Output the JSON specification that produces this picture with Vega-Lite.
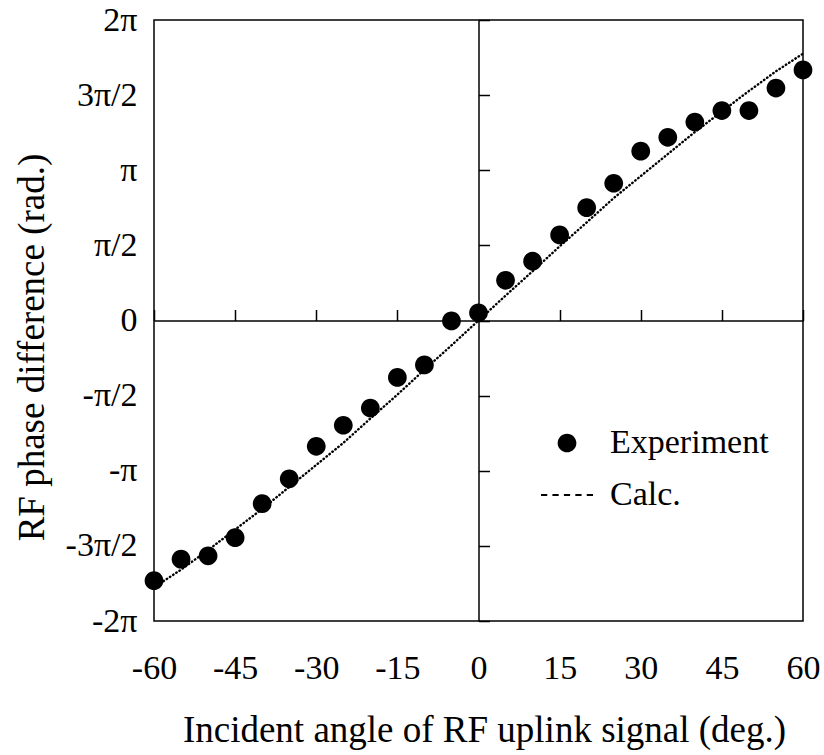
{
  "$schema": "https://vega.github.io/schema/vega-lite/v6.json",
  "width": 649,
  "height": 601,
  "autosize": {"type": "none"},
  "padding": {"left": 154, "top": 20, "right": 21, "bottom": 134},
  "background": "white",
  "config": {
    "view": {"stroke": "black", "strokeWidth": 1.5},
    "axis": {"labelFont": "Liberation Serif", "titleFont": "Liberation Serif", "labelColor": "black", "titleColor": "black", "grid": false, "titleFontWeight": "normal"}
  },
  "datasets": {
    "exp": [
      {"angle": -60, "phase": -5.44, "series": "Experiment"},
      {"angle": -55, "phase": -4.99, "series": "Experiment"},
      {"angle": -50, "phase": -4.92, "series": "Experiment"},
      {"angle": -45, "phase": -4.54, "series": "Experiment"},
      {"angle": -40, "phase": -3.83, "series": "Experiment"},
      {"angle": -35, "phase": -3.31, "series": "Experiment"},
      {"angle": -30, "phase": -2.63, "series": "Experiment"},
      {"angle": -25, "phase": -2.19, "series": "Experiment"},
      {"angle": -20, "phase": -1.83, "series": "Experiment"},
      {"angle": -15, "phase": -1.19, "series": "Experiment"},
      {"angle": -10, "phase": -0.93, "series": "Experiment"},
      {"angle": -5, "phase": -0.01, "series": "Experiment"},
      {"angle": 0, "phase": 0.16, "series": "Experiment"},
      {"angle": 5, "phase": 0.84, "series": "Experiment"},
      {"angle": 10, "phase": 1.24, "series": "Experiment"},
      {"angle": 15, "phase": 1.79, "series": "Experiment"},
      {"angle": 20, "phase": 2.36, "series": "Experiment"},
      {"angle": 25, "phase": 2.87, "series": "Experiment"},
      {"angle": 30, "phase": 3.54, "series": "Experiment"},
      {"angle": 35, "phase": 3.83, "series": "Experiment"},
      {"angle": 40, "phase": 4.15, "series": "Experiment"},
      {"angle": 45, "phase": 4.39, "series": "Experiment"},
      {"angle": 50, "phase": 4.39, "series": "Experiment"},
      {"angle": 55, "phase": 4.86, "series": "Experiment"},
      {"angle": 60, "phase": 5.24, "series": "Experiment"}
    ],
    "calc": [
      {"angle": -60, "phase": -5.58},
      {"angle": -55, "phase": -5.21},
      {"angle": -50, "phase": -4.80},
      {"angle": -45, "phase": -4.37},
      {"angle": -40, "phase": -3.94},
      {"angle": -35, "phase": -3.48},
      {"angle": -30, "phase": -3.02},
      {"angle": -25, "phase": -2.56},
      {"angle": -20, "phase": -2.05},
      {"angle": -15, "phase": -1.55},
      {"angle": -10, "phase": -1.03},
      {"angle": -5, "phase": -0.52},
      {"angle": 0, "phase": 0},
      {"angle": 5, "phase": 0.52},
      {"angle": 10, "phase": 1.03},
      {"angle": 15, "phase": 1.55},
      {"angle": 20, "phase": 2.05},
      {"angle": 25, "phase": 2.56},
      {"angle": 30, "phase": 3.02},
      {"angle": 35, "phase": 3.48},
      {"angle": 40, "phase": 3.94},
      {"angle": 45, "phase": 4.37},
      {"angle": 50, "phase": 4.80},
      {"angle": 55, "phase": 5.21},
      {"angle": 60, "phase": 5.58}
    ]
  },
  "layer": [
    {
      "data": {"name": "calc"},
      "mark": {"type": "line", "color": "black", "strokeWidth": 2.4, "strokeDash": [0.5, 3.3], "strokeCap": "round"},
      "encoding": {
        "x": {
          "field": "angle", "type": "quantitative",
          "scale": {"domain": [-60, 60], "nice": false, "zero": false},
          "axis": {"orient": "top", "offset": -300.5, "values": [-60, -45, -30, -15, 0, 15, 30, 45, 60], "labels": false, "title": null, "domain": true, "domainColor": "black", "domainWidth": 1.5, "ticks": true, "tickSize": 11, "tickColor": "black", "tickWidth": 1.5}
        },
        "y": {
          "field": "phase", "type": "quantitative",
          "scale": {"domain": [-6.283185307, 6.283185307], "nice": false, "zero": false},
          "axis": {"orient": "right", "offset": -324.5, "values": [-6.283185307, -4.71238898, -3.141592654, -1.570796327, 0, 1.570796327, 3.141592654, 4.71238898, 6.283185307], "labels": false, "title": null, "domain": true, "domainColor": "black", "domainWidth": 1.5, "ticks": true, "tickSize": 11, "tickColor": "black", "tickWidth": 1.5}
        }
      }
    },
    {
      "data": {"name": "exp"},
      "mark": {"type": "point", "filled": true, "color": "black", "opacity": 1, "size": 2704},
      "encoding": {
        "x": {
          "field": "angle", "type": "quantitative",
          "scale": {"domain": [-60, 60], "nice": false, "zero": false},
          "axis": {"orient": "bottom", "values": [-60, -45, -30, -15, 0, 15, 30, 45, 60], "labelExpr": "datum.value < 0 ? '-' + abs(datum.value) : '' + datum.value", "domain": false, "ticks": false, "tickSize": 0, "labelFontSize": 34, "labelPadding": 57, "labelBaseline": "alphabetic", "labelFlush": false, "labelOverlap": false, "title": "Incident angle of RF uplink signal (deg.)", "titleFontSize": 37, "titleBaseline": "alphabetic", "titleX": 330, "titleY": 120, "titleAnchor": "middle"}
        },
        "y": {
          "field": "phase", "type": "quantitative",
          "scale": {"domain": [-6.283185307, 6.283185307], "nice": false, "zero": false},
          "axis": {"orient": "left", "values": [-6.283185307, -4.71238898, -3.141592654, -1.570796327, 0, 1.570796327, 3.141592654, 4.71238898, 6.283185307], "labelExpr": "['-2π','-3π/2','-π','-π/2','0','π/2','π','3π/2','2π'][round(datum.value/1.5707963)+4]", "domain": false, "ticks": false, "tickSize": 0, "labelFontSize": 34, "labelPadding": 17, "labelFlush": false, "labelOverlap": false, "title": "RF phase difference (rad.)", "titleFontSize": 37, "titleBaseline": "alphabetic", "titleX": -111, "titleY": 327, "titleAngle": 270, "titleAnchor": "middle"}
        },
        "shape": {
          "field": "series", "type": "nominal",
          "scale": {"domain": ["Experiment", "Calc."], "range": ["M0.36,0A0.36,0.36 0 1,1 -0.36,0A0.36,0.36 0 1,1 0.36,0Z", "M-1,-0.035L-0.76,-0.035L-0.76,0.035L-1,0.035ZM-0.56,-0.035L-0.32,-0.035L-0.32,0.035L-0.56,0.035ZM-0.12,-0.035L0.12,-0.035L0.12,0.035L-0.12,0.035ZM0.32,-0.035L0.56,-0.035L0.56,0.035L0.32,0.035ZM0.76,-0.035L1,-0.035L1,0.035L0.76,0.035Z"]},
          "legend": {
            "orient": "none", "legendX": 387, "legendY": 397, "title": null,
            "symbolSize": 2704, "symbolFillColor": "black", "symbolStrokeWidth": 0, "symbolOpacity": 1,
            "labelFont": "Liberation Serif", "labelFontSize": 34, "labelColor": "black", "labelOffset": 17, "rowPadding": 9, "padding": 0,
            "encode": {"symbols": {"update": {"fill": {"value": "black"}, "fillOpacity": {"value": 1}, "strokeWidth": {"value": 0}}}}
          }
        }
      }
    }
  ],
  "resolve": {"axis": {"x": "independent", "y": "independent"}}
}
